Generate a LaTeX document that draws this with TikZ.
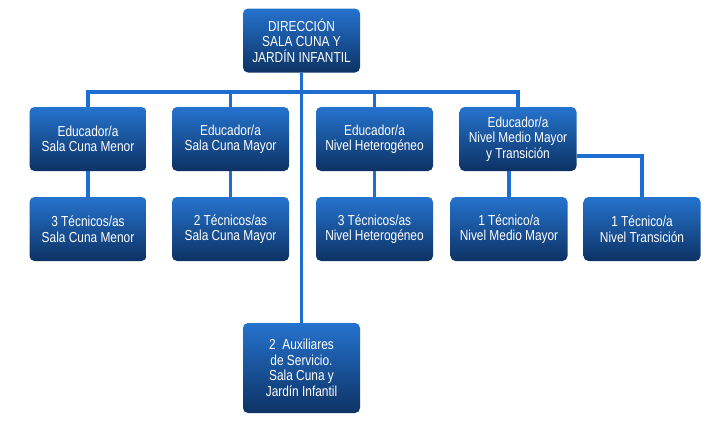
\documentclass[tikz,border=0pt]{standalone}
\usepackage{fontspec}
\setmainfont[FakeStretch=0.82]{Liberation Sans}
\definecolor{boxtop}{RGB}{37,115,206}
\definecolor{boxbot}{RGB}{13,50,100}
\definecolor{linkblue}{RGB}{30,110,210}
\begin{document}
\begin{tikzpicture}[
        x=1pt, y=-1pt,
        box/.style={rectangle, rounded corners=5pt, top color=boxtop, bottom color=boxbot,
            text=white, align=center, minimum width=117pt, minimum height=64pt, inner sep=2pt,
            font=\fontsize{14.5}{15.5}\selectfont},
        link/.style={draw=linkblue, line width=3.5pt},
    ]
        \useasboundingbox (0,0) rectangle (723,432);

        \node[box] (dir) at (301.5, 40.5) {DIRECCIÓN\\SALA CUNA Y\\JARDÍN INFANTIL};

        \node[box] (edu1) at (88, 139) {Educador/a\\Sala Cuna Menor};
        \node[box] (edu2) at (230.5, 139) {Educador/a\\Sala Cuna Mayor};
        \node[box] (edu3) at (374.5, 139) {Educador/a\\Nivel Heterogéneo};
        \node[box] (edu4) at (518, 139) {Educador/a\\Nivel Medio Mayor\\y Transición};

        \node[box] (tec1) at (88, 229) {3 Técnicos/as\\Sala Cuna Menor};
        \node[box] (tec2) at (230.5, 229) {2 Técnicos/as\\Sala Cuna Mayor};
        \node[box] (tec3) at (374.5, 229) {3 Técnicos/as\\Nivel Heterogéneo};
        \node[box] (tec4) at (509, 229) {1 Técnico/a\\Nivel Medio Mayor};
        \node[box] (tec5) at (642, 229) {1 Técnico/a\\Nivel Transición};

        \node[box, minimum height=90pt] (aux) at (301.5, 368) {2~ Auxiliares\\de Servicio.\\Sala Cuna y\\Jardín Infantil};

        \coordinate (bus) at (0, 92);

        \draw[link] (dir) -- (aux);
        \draw[link] (edu1.north) |- (bus -| edu4.north) -- (edu4.north);
        \draw[link] (edu2.north) -- (edu2.north |- bus);
        \draw[link] (edu3.north) -- (edu3.north |- bus);

        \draw[link] (edu1) -- (tec1);
        \draw[link] (edu2) -- (tec2);
        \draw[link] (edu3) -- (tec3);
        \draw[link] (tec4.north) -- (tec4.north |- edu4.south);
        \draw[link] ([yshift=-17pt]edu4.east) -| (tec5.north);
    \end{tikzpicture}
\end{document}
